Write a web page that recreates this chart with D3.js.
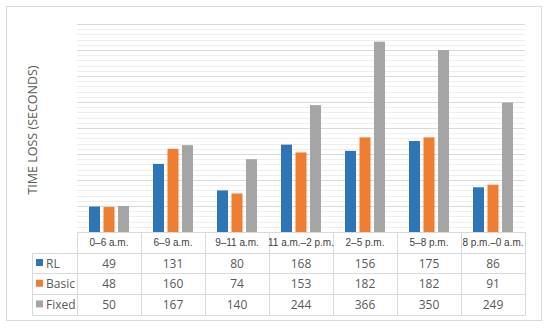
<!DOCTYPE html>
<html lang="en">
<head>
<meta charset="utf-8">
<title>Time loss by period</title>
<script src="https://d3js.org/d3.v7.min.js"></script>
<style>
body { margin: 0; background: #fff; }
</style>
</head>
<body>
<div id="chart"></div>
<script>
// data
var periods = ["0\u20136 a.m.", "6\u20139 a.m.", "9\u201311 a.m.", "11 a.m.\u20132 p.m.", "2\u20135 p.m.", "5\u20138 p.m.", "8 p.m.\u20130 a.m."];
var seriesNames = ["RL", "Basic", "Fixed"];
var rl = [49, 131, 80, 168, 156, 175, 86];
var basic = [48, 160, 74, 153, 182, 182, 91];
var fixed = [50, 167, 140, 244, 366, 350, 249];
var colors = ["#2e75b6", "#ed7d31", "#a5a5a5"];
var series = [rl, basic, fixed];

var width = 550, height = 330;
// note: "top" is reserved on window, so plot edges get their own names
var plotLeft = 77, plotRight = 525, plotTop = 24, base = 232;

const svg = d3.select("#chart").append("svg")
    .attr("width", width)
    .attr("height", height);

// outer frame
svg.append("rect")
    .attr("x", 6.5).attr("y", 6.5)
    .attr("width", 535).attr("height", 314)
    .attr("fill", "none").attr("stroke", "#d9d9d9");

var x = d3.scaleBand().domain(periods).range([plotLeft, plotRight]);
var y = d3.scaleLinear().domain([0, 400]).range([base, plotTop]);

// gridlines: minor every 10, major every 50
svg.append("g").selectAll("line")
    .data(d3.range(10, 401, 10).filter(function (v) { return v % 50 !== 0; }))
    .join("line")
    .attr("x1", plotLeft).attr("x2", plotRight)
    .attr("y1", function (d) { return Math.round(y(d)) + 0.5; })
    .attr("y2", function (d) { return Math.round(y(d)) + 0.5; })
    .attr("stroke", "#eeeeee");

svg.append("g").selectAll("line")
    .data(d3.range(50, 401, 50))
    .join("line")
    .attr("x1", plotLeft).attr("x2", plotRight)
    .attr("y1", function (d) { return Math.round(y(d)) + 0.5; })
    .attr("y2", function (d) { return Math.round(y(d)) + 0.5; })
    .attr("stroke", "#d9d9d9");

// bars
var barW = 11, step = 14.5;
series.forEach(function (vals, s) {
    svg.append("g").selectAll("rect")
        .data(vals)
        .join("rect")
        .attr("x", function (d, i) { return x(periods[i]) + x.bandwidth() / 2 + (s - 1) * step - barW / 2; })
        .attr("y", function (d) { return y(d); })
        .attr("width", barW)
        .attr("height", function (d) { return base - y(d); })
        .attr("fill", colors[s]);
});

// axis title
svg.append("text")
    .attr("transform", "translate(37,130) rotate(-90)")
    .attr("text-anchor", "middle")
    .attr("font-family", "Open Sans, sans-serif")
    .attr("font-size", 12.5)
    .attr("fill", "#595959")
    .text("TIME LOSS (SECONDS)");

// data table
var rowH = 20.7;
var tableLeft = 32;
var grid = svg.append("g").attr("stroke", "#d9d9d9").attr("fill", "none");
// horizontal lines
grid.append("line").attr("x1", plotLeft).attr("x2", plotRight).attr("y1", base + 0.5).attr("y2", base + 0.5);
for (var r = 1; r <= 4; r++) {
    var yy = Math.round(base + r * rowH) + 0.5;
    grid.append("line").attr("x1", tableLeft).attr("x2", plotRight).attr("y1", yy).attr("y2", yy);
}
// vertical lines
var bottom = Math.round(base + 4 * rowH) + 0.5;
grid.append("line").attr("x1", tableLeft + 0.5).attr("x2", tableLeft + 0.5)
    .attr("y1", Math.round(base + rowH) + 0.5).attr("y2", bottom);
periods.concat([null]).forEach(function (p, i) {
    var xx = Math.round(plotLeft + i * x.bandwidth()) + 0.5;
    grid.append("line").attr("x1", xx).attr("x2", xx).attr("y1", base).attr("y2", bottom);
});

// header labels
svg.append("g").selectAll("text")
    .data(periods)
    .join("text")
    .attr("x", function (d) { return x(d) + x.bandwidth() / 2; })
    .attr("y", base + rowH / 2 + 4)
    .attr("text-anchor", "middle")
    .attr("font-family", "Liberation Sans, Arial, sans-serif")
    .attr("font-size", 10)
    .attr("fill", "#404040")
    .text(function (d) { return d; });

// rows
series.forEach(function (vals, s) {
    var cy = base + (s + 1.5) * rowH;
    svg.append("rect")
        .attr("x", 36).attr("y", cy - 4)
        .attr("width", 7).attr("height", 7)
        .attr("fill", colors[s]);
    svg.append("text")
        .attr("x", 46).attr("y", cy + 4.5)
        .attr("font-family", "Open Sans, sans-serif")
        .attr("font-size", 12)
        .attr("fill", "#595959")
        .text(seriesNames[s]);
    svg.append("g").selectAll("text")
        .data(vals)
        .join("text")
        .attr("x", function (d, i) { return x(periods[i]) + x.bandwidth() / 2; })
        .attr("y", cy + 4.5)
        .attr("text-anchor", "middle")
        .attr("font-family", "Open Sans, sans-serif")
        .attr("font-size", 12)
        .attr("fill", "#595959")
        .text(function (d) { return d; });
});
</script>
</body>
</html>
